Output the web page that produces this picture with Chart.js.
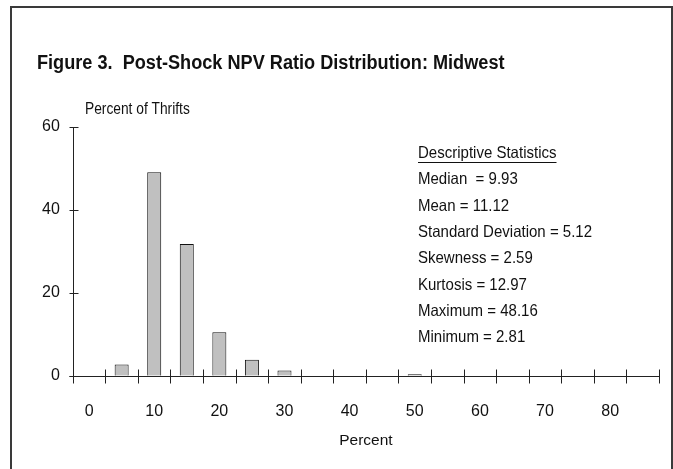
<!DOCTYPE html>
<html>
<head>
<meta charset="utf-8">
<script src="https://cdn.jsdelivr.net/npm/chart.js@4/dist/chart.umd.min.js"></script>
<style>
  html, body { margin: 0; padding: 0; background: #fff; }
  #wrap { width: 673px; height: 469px; position: relative; }
</style>
</head>
<body>
<div id="wrap"><canvas id="c"></canvas></div>
<script>
// NPV ratio bins (percent), 5-point wide
const categories = [0, 5, 10, 15, 20, 25, 30, 35, 40, 45, 50, 55, 60, 65, 70, 75, 80, 85];
// Share of thrifts in each bin (percent)
const percentOfThrifts = [null, 2.7, 49.1, 31.8, 10.5, 3.9, 1.3, null, null, null, 0.4, null, null, null, null, null, null, null];
// Labels printed under the axis
const tickLabels = ['0', '', '10', '', '20', '', '30', '', '40', '', '50', '', '60', '', '70', '', '80', ''];
const yTicks = [0, 20, 40, 60];

const titleText = 'Figure 3.  Post-Shock NPV Ratio Distribution: Midwest';
const yAxisTitle = 'Percent of Thrifts';
const xAxisTitle = 'Percent';
const statsHeading = 'Descriptive Statistics';
const statsLines = [
  'Median  = 9.93',
  'Mean = 11.12',
  'Standard Deviation = 5.12',
  'Skewness = 2.59',
  'Kurtosis = 12.97',
  'Maximum = 48.16',
  'Minimum = 2.81'
];

const FONT = '"Liberation Sans", Arial, sans-serif';
Chart.defaults.font.family = FONT;
Chart.defaults.color = '#111';

// draws text slightly condensed horizontally
function condensedText(ctx, text, x, y, sx) {
  ctx.save();
  ctx.translate(x, y);
  ctx.scale(sx, 1);
  ctx.fillText(text, 0, 0);
  const w = ctx.measureText(text).width * sx;
  ctx.restore();
  return w;
}

// Frame, headings, statistics box and hand-drawn axes with crossing tick marks
const decorations = {
  id: 'decorations',
  afterDraw(chart) {
    const ctx = chart.ctx;
    const area = chart.chartArea;
    const xs = chart.scales.x, ys = chart.scales.y;
    ctx.save();

    // outer frame (open at the bottom)
    ctx.strokeStyle = '#3a3a3a';
    ctx.lineWidth = 2;
    ctx.beginPath();
    ctx.moveTo(11, 469);
    ctx.lineTo(11, 7);
    ctx.lineTo(672, 7);
    ctx.lineTo(672, 469);
    ctx.stroke();

    // title
    ctx.fillStyle = '#111';
    ctx.textBaseline = 'alphabetic';
    ctx.textAlign = 'left';
    ctx.font = 'bold 19.5px ' + FONT;
    condensedText(ctx, titleText, 37, 69, 0.93);

    // vertical axis caption
    ctx.font = '16px ' + FONT;
    condensedText(ctx, yAxisTitle, 85, 114, 0.86);

    // horizontal axis caption
    ctx.font = '15.5px ' + FONT;
    ctx.textAlign = 'center';
    ctx.fillText(xAxisTitle, (area.left + area.right) / 2, 445);
    ctx.textAlign = 'left';

    // statistics box
    ctx.font = '16.5px ' + FONT;
    const sx = 418;
    const by = 158;
    const step = 26.3;
    const w = condensedText(ctx, statsHeading, sx, by, 0.91);
    ctx.lineWidth = 1;
    ctx.strokeStyle = '#111';
    ctx.beginPath();
    ctx.moveTo(sx, by + 4.5);
    ctx.lineTo(sx + w, by + 4.5);
    ctx.stroke();
    statsLines.forEach((t, i) => condensedText(ctx, t, sx, by + step * (i + 1), 0.91));

    // axes
    ctx.strokeStyle = '#222';
    ctx.lineWidth = 1;
    const ax = Math.round(area.left) + 0.5;
    const ay = Math.round(area.bottom) + 0.5;
    ctx.beginPath();
    ctx.moveTo(ax, area.top);
    ctx.lineTo(ax, ay);
    ctx.moveTo(ax - 4, ay);
    ctx.lineTo(Math.round(area.right) + 0.5, ay);
    yTicks.forEach(v => {
      const py = Math.round(ys.getPixelForValue(v)) + 0.5;
      ctx.moveTo(ax - 4, py);
      ctx.lineTo(ax + 5, py);
    });
    const n = categories.length;
    for (let i = 0; i <= n; i++) {
      const px = Math.round(xs.left + i * (xs.width / n)) + 0.5;
      ctx.moveTo(px, ay - 7);
      ctx.lineTo(px, ay + 7);
    }
    ctx.stroke();
    ctx.restore();
  }
};

new Chart(document.getElementById('c'), {
  type: 'bar',
  data: {
    labels: categories.map(String),
    datasets: [{
      data: percentOfThrifts,
      backgroundColor: '#c0c0c0',
      borderColor: '#111',
      borderWidth: 1,
      categoryPercentage: 1,
      barPercentage: 0.43
    }]
  },
  options: {
    responsive: true,
    maintainAspectRatio: false,
    animation: false,
    devicePixelRatio: 1,
    layout: { padding: { left: 29, right: 14, top: 127, bottom: 22 } },
    plugins: { legend: { display: false }, tooltip: { enabled: false }, title: { display: false } },
    scales: {
      x: {
        type: 'category',
        offset: true,
        grid: { display: false, drawTicks: false },
        border: { display: false },
        ticks: {
          autoSkip: false,
          maxRotation: 0,
          padding: 26,
          font: { size: 16 },
          color: '#111',
          callback: (v, i) => tickLabels[i]
        }
      },
      y: {
        min: 0,
        max: 60,
        grid: { display: false, drawTicks: false },
        border: { display: false },
        ticks: { stepSize: 20, padding: 13, font: { size: 16 }, color: '#111' }
      }
    }
  },
  plugins: [decorations]
});
</script>
</body>
</html>
